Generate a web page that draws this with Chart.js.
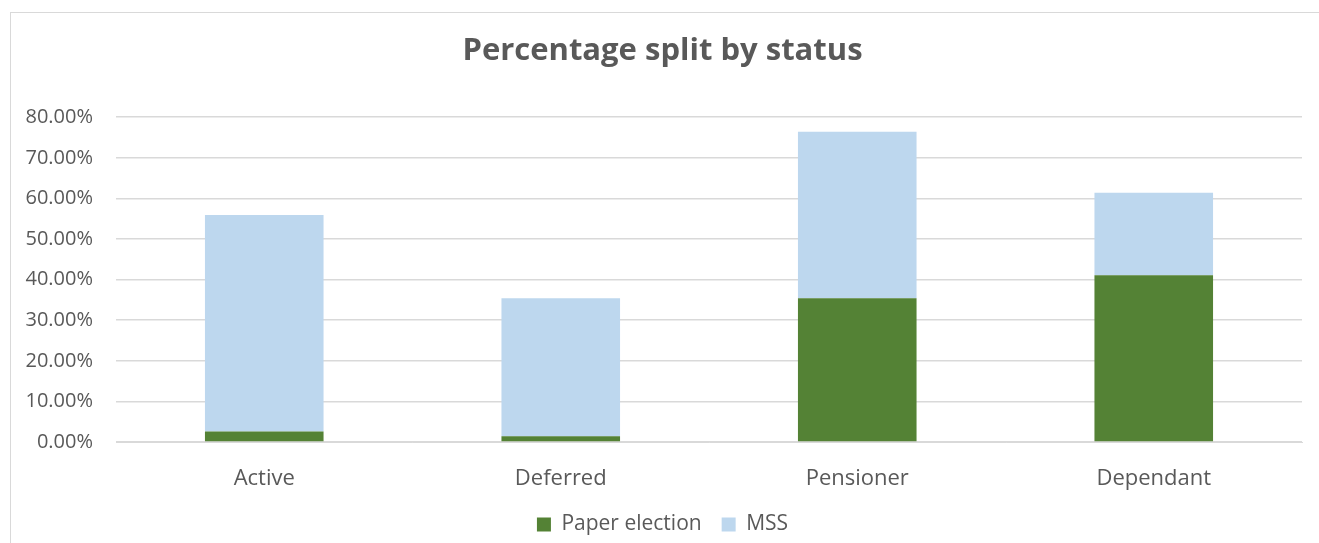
<!DOCTYPE html>
<html>
<head>
<meta charset="utf-8">
<script src="https://cdn.jsdelivr.net/npm/chart.js@4.4.0/dist/chart.umd.min.js"></script>
<style>
  html, body { margin: 0; padding: 0; background: #fff; overflow: hidden; }
  #frame {
    position: absolute; left: 10px; top: 12px;
    width: 1330px; height: 560px;
    border: 1px solid #d9d9d9;
  }
  #chartCanvas { display: block; }
</style>
</head>
<body>
<div id="frame"><canvas id="chartCanvas" width="1300" height="532"></canvas></div>
<script>
"use strict";

const categories = ['Active', 'Deferred', 'Pensioner', 'Dependant'];
const paperElection = [2.6, 1.4, 35.4, 41.1];
const mss = [53.3, 34.0, 41.0, 20.3];
const yTicks = [0, 10, 20, 30, 40, 50, 60, 70, 80];

const textGrey = '#595959';
const fontFamily = "'Open Sans', sans-serif";

const ctx = document.getElementById('chartCanvas');

const data = {
    labels: categories,
    datasets: [{
        label: 'Paper election',
        data: paperElection,
        backgroundColor: '#548235',
        barPercentage: 0.8,
        categoryPercentage: 0.5
    }, {
        label: 'MSS',
        data: mss,
        backgroundColor: '#bdd7ee',
        barPercentage: 0.8,
        categoryPercentage: 0.5
    }]
};

const config = {
    type: 'bar',
    data: data,
    options: {
        responsive: false,
        animation: false,
        layout: { padding: { left: 12, right: 9, top: 20, bottom: 0 } },
        scales: {
            x: {
                stacked: true,
                grid: { display: false, drawTicks: false },
                border: { color: '#d9d9d9', width: 1 },
                afterFit: (axis) => { axis.height = 52; },
                ticks: { color: textGrey, font: { family: fontFamily, size: 22 }, padding: 24 }
            },
            y: {
                stacked: true,
                min: 0,
                max: 80,
                afterBuildTicks: (axis) => { axis.ticks = yTicks.map(v => ({ value: v })); },
                afterFit: (axis) => { axis.width = 93; },
                grid: { color: '#d9d9d9', lineWidth: 1.5, drawTicks: false },
                border: { display: false },
                ticks: {
                    color: textGrey,
                    font: { family: fontFamily, size: 20 },
                    padding: 23,
                    callback: (v) => v.toFixed(2) + '%'
                }
            }
        },
        plugins: {
            title: {
                display: true,
                text: 'Percentage split by status',
                color: textGrey,
                font: { family: fontFamily, size: 31, weight: 'bold' },
                padding: { top: 0, bottom: 47 }
            },
            legend: {
                position: 'bottom',
                labels: {
                    color: textGrey,
                    font: { family: fontFamily, size: 21 },
                    boxWidth: 14,
                    boxHeight: 14,
                    padding: 20
                }
            },
            tooltip: { enabled: false }
        }
    }
};

new Chart(ctx, config);
</script>
</body>
</html>
